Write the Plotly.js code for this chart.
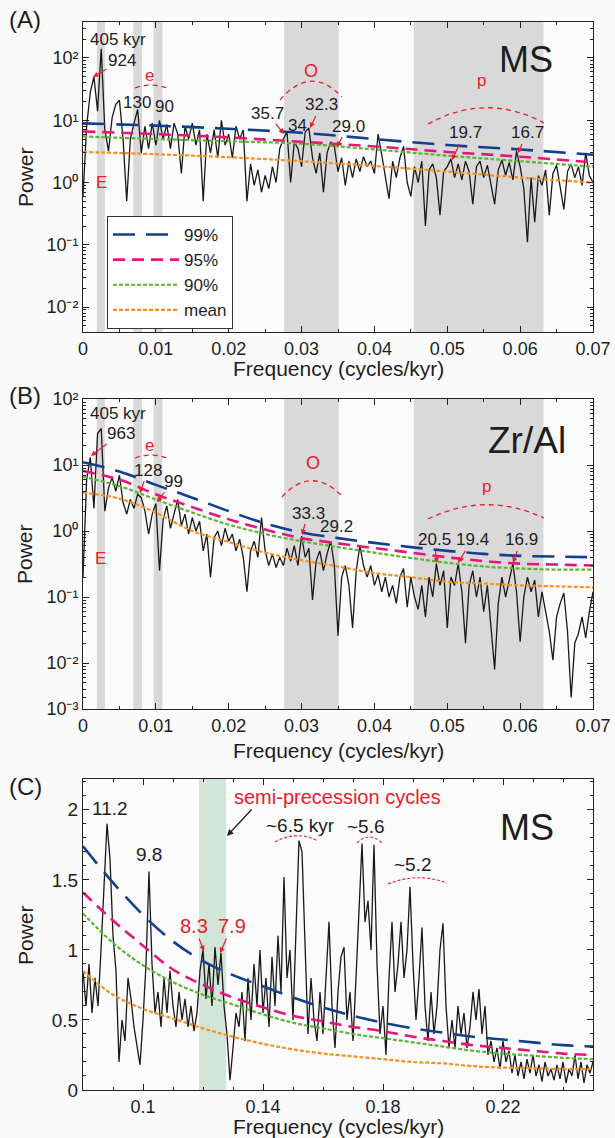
<!DOCTYPE html>
<html><head><meta charset="utf-8">
<script src="https://cdn.plot.ly/plotly-3.0.1.min.js"></script>
<style>html,body{margin:0;padding:0;background:#fafafa}#chart{width:615px;height:1138px}</style>
</head><body><div id="chart"></div>
<script>
// ---------- data ----------
const freqAB = [0,0.0005,0.001,0.0015,0.002,0.0025,0.003,0.0035,0.004,0.0045,0.005,0.0055,0.006,0.0065,0.007,0.0075,0.008,0.0085,0.009,0.0095,0.01,0.0105,0.011,0.0115,0.012,0.0125,0.013,0.0135,0.014,0.0145,0.015,0.0155,0.016,0.0165,0.017,0.0175,0.018,0.0185,0.019,0.0195,0.02,0.0205,0.021,0.0215,0.022,0.0225,0.023,0.0235,0.024,0.0245,0.025,0.0255,0.026,0.0265,0.027,0.0275,0.028,0.0285,0.029,0.0295,0.03,0.0305,0.031,0.0315,0.032,0.0325,0.033,0.0335,0.034,0.0345,0.035,0.0355,0.036,0.0365,0.037,0.0375,0.038,0.0385,0.039,0.0395,0.04,0.0405,0.041,0.0415,0.042,0.0425,0.043,0.0435,0.044,0.0445,0.045,0.0455,0.046,0.0465,0.047,0.0475,0.048,0.0485,0.049,0.0495,0.05,0.0505,0.051,0.0515,0.052,0.0525,0.053,0.0535,0.054,0.0545,0.055,0.0555,0.056,0.0565,0.057,0.0575,0.058,0.0585,0.059,0.0595,0.06,0.0605,0.061,0.0615,0.062,0.0625,0.063,0.0635,0.064,0.0645,0.065,0.0655,0.066,0.0665,0.067,0.0675,0.068,0.0685,0.069,0.0695,0.07];

const powerMS_A = [0.6,8,28,50,14,140,7,3.2,11,18,
21,5,0.5,5,9,15,3,8,3.5,9,
4,10,5,8.5,3.5,9,6,1.4,8,5,
9,4,7,0.5,6,3,7,2.5,10,4,
6,2.5,8,5,7,0.5,2,0.9,1.6,0.7,
1.3,0.8,1.8,1.0,3.5,5,6.5,1.0,4.5,3.5,
1.8,6.5,7.5,2.5,1.4,3,0.7,3,4.5,3.8,
1.5,2.5,0.9,2.2,1.2,2.4,1.5,2.6,1.8,2.2,
1.4,6,2.8,1.2,0.55,2.2,1.2,2.5,3.8,1.0,
0.6,1.8,1.0,2.2,0.2,1.6,2.0,1.2,0.3,1.5,
1.8,2.4,1.2,2.0,1.1,2.2,1.5,0.45,1.8,2.2,
1.2,1.9,0.9,0.45,1.6,2.3,1.3,2.1,1.1,3.2,
1.8,0.8,0.11,1.2,0.23,1.3,0.9,1.6,0.3,1.4,
1.9,0.9,0.37,1.5,2.0,1.2,1.8,0.9,3.0,1.3,1.0];

const powerZrAl_B = [0.2,6,13,2.2,30,36,2.0,4.5,6.5,4,
7,2.7,1.8,3.0,2.2,3.6,3.2,2.0,0.9,1.8,
2.6,0.25,1.5,2.4,1.1,1.9,3.0,1.2,1.8,0.9,
1.6,1.0,1.4,0.5,0.9,0.2,0.8,1.0,0.6,1.1,
0.7,0.9,0.5,0.75,0.4,0.12,0.5,0.7,0.4,1.6,
0.5,0.3,0.45,0.28,0.4,0.3,0.55,0.35,0.6,0.3,
0.84,0.4,0.55,0.09,0.35,0.5,0.25,0.45,0.7,0.3,
0.026,0.2,0.3,0.15,0.034,0.25,0.6,0.3,0.2,0.3,
0.15,0.22,0.12,0.2,0.1,0.15,0.08,0.2,0.27,0.07,
0.2,0.1,0.065,0.15,0.05,0.2,0.1,0.32,0.15,0.25,
0.034,0.2,0.15,0.32,0.12,0.02,0.15,0.25,0.1,0.2,
0.06,0.15,0.03,0.008,0.08,0.2,0.1,0.18,0.32,0.12,
0.021,0.1,0.2,0.12,0.18,0.05,0.12,0.06,0.03,0.011,
0.05,0.08,0.115,0.03,0.003,0.02,0.028,0.05,0.024,0.06,0.12];

const freqC = [0.08,0.081,0.082,0.083,0.084,0.085,0.086,0.087,0.088,0.089,0.09,0.091,0.092,0.093,0.094,0.095,0.096,0.097,0.098,0.099,0.1,0.101,0.102,0.103,0.104,0.105,0.106,0.107,0.108,0.109,0.11,0.111,0.112,0.113,0.114,0.115,0.116,0.117,0.118,0.119,0.12,0.121,0.122,0.123,0.124,0.125,0.126,0.127,0.128,0.129,0.13,0.131,0.132,0.133,0.134,0.135,0.136,0.137,0.138,0.139,0.14,0.141,0.142,0.143,0.144,0.145,0.146,0.147,0.148,0.149,0.15,0.151,0.152,0.153,0.154,0.155,0.156,0.157,0.158,0.159,0.16,0.161,0.162,0.163,0.164,0.165,0.166,0.167,0.168,0.169,0.17,0.171,0.172,0.173,0.174,0.175,0.176,0.177,0.178,0.179,0.18,0.181,0.182,0.183,0.184,0.185,0.186,0.187,0.188,0.189,0.19,0.191,0.192,0.193,0.194,0.195,0.196,0.197,0.198,0.199,0.2,0.201,0.202,0.203,0.204,0.205,0.206,0.207,0.208,0.209,0.21,0.211,0.212,0.213,0.214,0.215,0.216,0.217,0.218,0.219,0.22,0.221,0.222,0.223,0.224,0.225,0.226,0.227,0.228,0.229,0.23,0.231,0.232,0.233,0.234,0.235,0.236,0.237,0.238,0.239,0.24,0.241,0.242,0.243,0.244,0.245,0.246,0.247,0.248,0.249,0.25];

const powerMS_C = [0.85,0.6,0.9,0.55,0.8,0.6,1.0,1.4,1.9,1.65,
1.1,0.85,0.2,0.5,0.35,0.8,0.65,0.45,0.3,0.18,
0.5,0.9,1.56,0.9,0.55,0.7,0.45,0.8,0.55,0.85,
0.6,0.45,0.7,0.5,0.65,0.45,0.6,0.42,0.55,0.85,
1.0,0.65,0.9,0.6,1.02,0.75,0.98,0.6,0.4,0.07,
0.3,0.55,0.45,0.7,0.35,0.8,0.5,0.9,0.6,1.0,
0.55,0.8,0.45,0.95,0.6,1.1,0.7,1.52,0.8,1.0,
0.5,1.1,1.78,1.7,1.0,0.4,0.8,0.5,0.35,0.7,
0.4,0.8,1.2,0.6,0.3,0.7,0.95,1.02,0.5,0.7,
0.35,0.8,1.3,1.76,1.2,1.35,1.0,1.75,0.9,0.4,
0.6,0.25,0.8,1.2,0.7,0.9,1.2,0.8,1.0,1.45,
0.9,0.5,0.8,1.16,0.6,0.35,0.7,0.4,0.6,1.0,
1.19,0.6,0.3,0.5,0.3,0.6,0.4,0.55,0.3,0.45,
0.7,0.5,0.72,0.4,0.6,0.25,0.35,0.2,0.3,0.15,
0.35,0.2,0.28,0.12,0.25,0.1,0.2,0.08,0.22,0.12,
0.25,0.1,0.18,0.06,0.2,0.1,0.15,0.07,0.18,0.08,
0.2,0.05,0.15,0.1,0.25,0.08,0.2,0.05,0.18,0.12,
0.2];

// confidence levels
const confFreqA = [0,0.01,0.02,0.03,0.04,0.05,0.06,0.07];
const ci99_A = [8.9,8.2,7.3,6.3,5.0,4.0,3.4,2.8];
const ci95_A = [6.6,6.0,5.3,4.5,3.8,3.1,2.6,2.1];
const ci90_A = [5.5,5.0,4.6,4.2,3.4,2.7,2.2,1.8];
const mean_A = [3.1,2.85,2.55,2.2,1.85,1.5,1.2,1.0];

const confFreqB = [0,0.005,0.01,0.015,0.02,0.025,0.03,0.035,0.04,0.045,0.05,0.055,0.06,0.065,0.07];
const ci99_B = [11,8.0,5.0,3.2,2.0,1.3,0.95,0.78,0.66,0.57,0.5,0.45,0.42,0.41,0.40];
const ci95_B = [8.1,6.0,3.6,2.3,1.5,1.05,0.78,0.65,0.55,0.47,0.4,0.35,0.32,0.31,0.30];
const ci90_B = [6.6,4.8,3.0,1.9,1.25,0.9,0.7,0.57,0.47,0.39,0.33,0.29,0.27,0.26,0.26];
const mean_B = [3.8,3.1,1.9,1.0,0.68,0.47,0.36,0.29,0.23,0.2,0.17,0.16,0.15,0.145,0.14];

const confFreqC = [0.08,0.09,0.10,0.11,0.12,0.13,0.14,0.15,0.16,0.17,0.18,0.19,0.20,0.21,0.22,0.23,0.24,0.25];
const ci99_C = [1.74,1.48,1.25,1.06,0.92,0.82,0.74,0.66,0.59,0.53,0.48,0.44,0.41,0.38,0.36,0.34,0.32,0.31];
const ci95_C = [1.41,1.21,1.03,0.86,0.75,0.66,0.59,0.53,0.49,0.45,0.42,0.38,0.35,0.32,0.30,0.28,0.26,0.25];
const ci90_C = [1.26,1.05,0.89,0.77,0.68,0.61,0.54,0.48,0.44,0.40,0.37,0.34,0.31,0.28,0.26,0.245,0.23,0.22];
const mean_C = [0.85,0.68,0.58,0.51,0.44,0.38,0.33,0.29,0.26,0.24,0.22,0.20,0.19,0.17,0.16,0.155,0.15,0.15];

// bands (cycles/kyr)
const bandsAB = [[0.0019,0.0030],[0.0069,0.0081],[0.0097,0.0109],[0.0276,0.0351],[0.0454,0.0632]];
const bandC = [0.1187,0.1277];

// ---------- styling ----------
const W = 615, H = 1138;
const FONT = 'Liberation Sans, Arial, sans-serif';
const RED = '#e8202a';
const TXT = '#1e1e1e';
const XD = [83/W, 593/W];
const px = x => x / W, py = y => 1 - y / H;

const COL = {c99:'#143f8e', c95:'#e5177b', c90:'#5db531', mean:'#f59121'};
const DASH = {c99:'22px,11px', c95:'12px,7px', c90:'4px,2px', mean:'4px,2px'};
const WID = {c99:2.6, c95:2.6, c90:2.2, mean:2.2};

function specTrace(x, y, xa, ya) {
  return {x, y, xaxis: xa, yaxis: ya, type: 'scatter', mode: 'lines',
    line: {color: '#1c1818', width: 1.3}, showlegend: false, hoverinfo: 'skip'};
}
function confTrace(x, y, xa, ya, name, key, show) {
  return {x, y, xaxis: xa, yaxis: ya, type: 'scatter', mode: 'lines', name,
    line: {color: COL[key], width: WID[key], dash: DASH[key], shape: 'spline', smoothing: 1},
    showlegend: show, hoverinfo: 'skip'};
}

const traces = [
  specTrace(freqAB, powerMS_A, 'x', 'y'),
  confTrace(confFreqA, ci99_A, 'x', 'y', '99%', 'c99', true),
  confTrace(confFreqA, ci95_A, 'x', 'y', '95%', 'c95', true),
  confTrace(confFreqA, ci90_A, 'x', 'y', '90%', 'c90', true),
  confTrace(confFreqA, mean_A, 'x', 'y', 'mean', 'mean', true),
  specTrace(freqAB, powerZrAl_B, 'x2', 'y2'),
  confTrace(confFreqB, ci99_B, 'x2', 'y2', '99%', 'c99', false),
  confTrace(confFreqB, ci95_B, 'x2', 'y2', '95%', 'c95', false),
  confTrace(confFreqB, ci90_B, 'x2', 'y2', '90%', 'c90', false),
  confTrace(confFreqB, mean_B, 'x2', 'y2', 'mean', 'mean', false),
  specTrace(freqC, powerMS_C, 'x3', 'y3'),
  confTrace(confFreqC, ci99_C, 'x3', 'y3', '99%', 'c99', false),
  confTrace(confFreqC, ci95_C, 'x3', 'y3', '95%', 'c95', false),
  confTrace(confFreqC, ci90_C, 'x3', 'y3', '90%', 'c90', false),
  confTrace(confFreqC, mean_C, 'x3', 'y3', 'mean', 'mean', false)
];

const minorLog = [];
for (let k = -3; k <= 2; k++) for (let d = 2; d <= 9; d++) minorLog.push(d * Math.pow(10, k));

const axBase = {showline: true, linecolor: '#222', linewidth: 1, mirror: 'allticks',
  ticks: 'inside', ticklen: 6, tickwidth: 1, tickcolor: '#222', showgrid: false, zeroline: false,
  tickfont: {family: FONT, size: 18, color: TXT}, fixedrange: true};
const minorX = d => ({dtick: d, ticks: 'inside', ticklen: 3, tickwidth: 1, tickcolor: '#222', showgrid: false});

function logY(domain, anchor, range, vals, texts) {
  return Object.assign({}, axBase, {domain, anchor, type: 'log', range,
    tickmode: 'array', tickvals: vals, ticktext: texts,
    minor: {tickmode: 'array', tickvals: minorLog, ticks: 'inside', ticklen: 3, tickwidth: 1, tickcolor: '#222', showgrid: false}});
}

const ticksA = [0.01, 0.1, 1, 10, 100];
const ticksAText = ['10\u207B\u00B2', '10\u207B\u00B9', '10\u2070', '10\u00B9', '10\u00B2'];
const bBottom = Math.pow(10, -2.697);
const ticksB = [bBottom, 0.01, 0.1, 1, 10, 100];
const ticksBText = ['10\u207B\u00B3', '10\u207B\u00B2', '10\u207B\u00B9', '10\u2070', '10\u00B9', '10\u00B2'];

const layout = {
  width: W, height: H,
  margin: {l: 0, r: 0, t: 0, b: 0, pad: 0},
  paper_bgcolor: '#fafafa', plot_bgcolor: '#fbfbfb',
  font: {family: FONT, size: 18, color: TXT},
  showlegend: true,
  legend: {x: 107/W, y: py(216), xanchor: 'left', yanchor: 'top', bgcolor: '#ffffff',
    bordercolor: '#333', borderwidth: 1, font: {family: FONT, size: 17, color: TXT},
    itemwidth: 66, tracegroupgap: 0},
  xaxis: Object.assign({}, axBase, {domain: XD, anchor: 'y', range: [0, 0.07], tick0: 0, dtick: 0.01, minor: minorX(0.005)}),
  yaxis: logY([py(332), py(22)], 'x', [-2.40, 2.578], ticksA, ticksAText),
  xaxis2: Object.assign({}, axBase, {domain: XD, anchor: 'y2', range: [0, 0.07], tick0: 0, dtick: 0.01, minor: minorX(0.005)}),
  yaxis2: logY([py(709), py(399)], 'x2', [-2.697, 2.0], ticksB, ticksBText),
  xaxis3: Object.assign({}, axBase, {domain: XD, anchor: 'y3', range: [0.08, 0.25],
    tickmode: 'array', tickvals: [0.1, 0.14, 0.18, 0.22], ticktext: ['0.1', '0.14', '0.18', '0.22'],
    minor: {tickmode: 'linear', tick0: 0.08, dtick: 0.01, ticks: 'inside', ticklen: 3, tickwidth: 1, tickcolor: '#222', showgrid: false}}),
  yaxis3: Object.assign({}, axBase, {domain: [py(1090), py(779)], anchor: 'x3', range: [0, 2.22],
    tickmode: 'array', tickvals: [0, 0.5, 1, 1.5, 2], ticktext: ['0', '0.5', '1', '1.5', '2'],
    tickfont: {family: FONT, size: 19, color: TXT},
    minor: {tickmode: 'linear', tick0: 0, dtick: 0.1, ticks: 'inside', ticklen: 3, tickwidth: 1, tickcolor: '#222', showgrid: false}}),
  shapes: [],
  annotations: []
};

// shaded bands
bandsAB.forEach(b => {
  ['', '2'].forEach(s => layout.shapes.push({type: 'rect', xref: 'x' + s, yref: 'y' + s + ' domain',
    x0: b[0], x1: b[1], y0: 0, y1: 1, fillcolor: '#d9d9d9', line: {width: 0}, layer: 'below'}));
});
layout.shapes.push({type: 'rect', xref: 'x3', yref: 'y3 domain', x0: bandC[0], x1: bandC[1], y0: 0, y1: 1,
  fillcolor: '#d2e5d8', line: {width: 0}, layer: 'below'});

// red dashed arcs (pixel positions)
function arc(x0, y0, cx, cy, x1, y1, w, dash) {
  layout.shapes.push({type: 'path', xref: 'paper', yref: 'paper',
    path: `M ${px(x0)},${py(y0)} Q ${px(cx)},${py(cy)} ${px(x1)},${py(y1)}`,
    line: {color: RED, width: w, dash: dash}, layer: 'above'});
}
arc(135, 88, 151, 82, 167, 88, 1.3, '5px,4px');
arc(280, 100, 311, 64, 342, 97, 1.3, '5px,4px');
arc(428, 124, 486, 92, 544, 123, 1.3, '5px,4px');
arc(135, 458, 151, 452, 167, 458, 1.3, '5px,4px');
arc(282, 497, 311, 465, 342, 496, 1.3, '5px,4px');
arc(428, 519, 486, 491, 544, 518, 1.3, '5px,4px');
arc(275, 842, 297, 830, 318, 841, 1.1, '3px,2px');
arc(357, 843, 369, 831, 382, 843, 1.1, '3px,2px');
arc(388, 884, 417, 872, 447, 883, 1.1, '3px,2px');

// text annotations
function lab(text, x, y, size, color, extra) {
  layout.annotations.push(Object.assign({xref: 'paper', yref: 'paper', x: px(x), y: py(y), text,
    showarrow: false, xanchor: 'center', yanchor: 'middle',
    font: {family: FONT, size: size, color: color || TXT}}, extra || {}));
}
function arr(text, tx, ty, hx, hy, size, color) {
  layout.annotations.push({xref: 'paper', yref: 'paper', x: px(hx), y: py(hy), ax: tx - hx, ay: ty - hy,
    text, showarrow: true, arrowhead: 2, arrowsize: 0.9, arrowwidth: 1.2, arrowcolor: RED, standoff: 0,
    font: {family: FONT, size: size, color: color || TXT}});
}

// Panel A
lab('(A)', 25, 20, 24);
lab('405 kyr', 118, 39, 17);
arr('924', 122, 60, 93, 77, 17);
lab('e', 149, 76, 17, RED);
lab('130', 137, 103, 17);
lab('90', 164, 106, 17);
lab('E', 101, 182, 17, RED);
lab('O', 311, 71, 18, RED);
arr('35.7', 267, 113, 284, 134, 17);
lab('34', 297, 125, 17);
arr('32.3', 321, 105, 310, 128, 17);
arr('29.0', 348, 126, 337, 147, 17);
lab('MS', 526, 60, 36);
lab('p', 481, 81, 17, RED);
arr('19.7', 465, 133, 452, 160, 17);
arr('16.7', 527, 133, 518, 153, 17);
lab('Frequency (cycles/kyr)', 338, 368, 21);
lab('Power', 25, 177, 21, TXT, {textangle: -90});

// Panel B
lab('(B)', 25, 396, 24);
lab('405 kyr', 118, 413, 17);
arr('963', 121, 433, 91, 456, 17);
lab('e', 149, 446, 17, RED);
arr('128', 148, 470, 140, 493, 17);
arr('99', 173, 481, 157, 502, 17);
lab('E', 100, 558, 17, RED);
lab('O', 313, 463, 18, RED);
arr('33.3', 308, 513, 302, 535, 17);
lab('29.2', 336, 527, 17);
lab('Zr/Al', 527, 441, 37);
lab('p', 486, 487, 17, RED);
arr('20.5', 434, 540, 437, 563, 17);
arr('19.4', 472, 540, 458, 563, 17);
arr('16.9', 521, 540, 513, 563, 17);
lab('Frequency (cycles/kyr)', 338, 750, 21);
lab('Power', 25, 554, 21, TXT, {textangle: -90});

// Panel C
lab('(C)', 25, 786, 24);
lab('11.2', 110, 808, 19);
lab('9.8', 149, 854, 19);
lab('semi-precession cycles', 337, 797, 20, RED);
layout.annotations.push({xref: 'paper', yref: 'paper', x: px(227), y: py(836), ax: 253 - 227, ay: 808 - 836,
  text: '', showarrow: true, arrowhead: 2, arrowsize: 1, arrowwidth: 1.3, arrowcolor: '#222', standoff: 0});
lab('~6.5 kyr', 300, 825, 19);
lab('~5.6', 366, 826, 19);
lab('~5.2', 413, 864, 19);
arr('8.3', 194, 926, 204, 951, 20, RED);
arr('7.9', 232, 926, 220, 953, 20, RED);
lab('MS', 527, 827, 36);
lab('Frequency (cycles/kyr)', 338, 1126, 21);
lab('Power', 25, 935, 21, TXT, {textangle: -90});

Plotly.newPlot('chart', traces, layout, {staticPlot: true, displayModeBar: false});
</script>
</body></html>
